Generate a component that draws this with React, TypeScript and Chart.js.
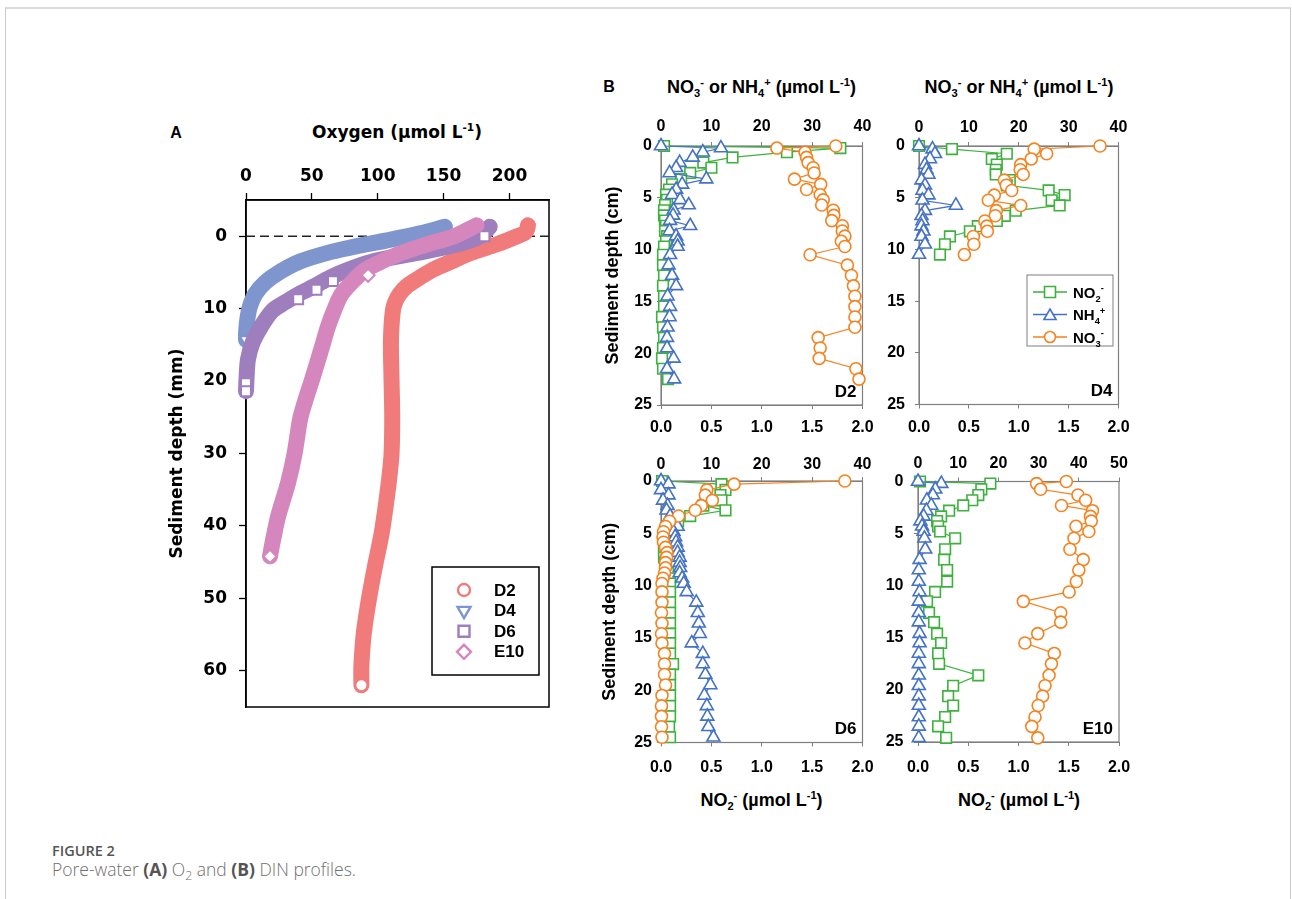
import React, { useEffect, useRef } from 'react';
import { Chart, registerables } from 'chart.js';

Chart.register(...registerables);

const SANS = "'Liberation Sans', Arial, sans-serif";
const DEJAVU = "'DejaVu Sans', sans-serif";
const CAPTION = "'Open Sans', 'Noto Sans', sans-serif";

// ---------------- Panel A: O2 profiles (depth mm, O2 umol/L) ----------------
const o2Stations = ['D2', 'D4', 'D6', 'E10'];
const o2Ticks = [0, 50, 100, 150, 200];
const o2DepthTicks = [0, 10, 20, 30, 40, 50, 60];

const o2D2Depth = [-1.5, -1, -0.5, 0, 0.6, 1.15, 2.3, 3.4, 4.6, 5.7, 6.9, 8.0, 9.2, 10.3, 12.6, 15, 20, 25, 30, 33, 36, 41, 45.5, 50, 54.7, 59.3, 62];
const o2D2Value = [214, 213.5, 212, 206, 198, 190, 171, 157, 142, 132, 122, 116.5, 113, 111.5, 110.4, 110, 110.5, 111, 110.5, 109, 107, 103, 98, 93.4, 89.5, 87.6, 87.6];

const o2D4Depth = [-1.3, -0.4, 0.5, 1.3, 2.2, 3.5, 4.9, 6.4, 8.0, 9.7, 11.5, 13.5, 14.3];
const o2D4Value = [151, 132, 109, 86, 64, 41, 26, 14.5, 7, 3, 1, 0, 0];

const o2D6Depth = [-1.3, 0, 1.15, 2.3, 3.4, 4.6, 5.7, 6.9, 8.0, 9.2, 10.3, 12.6, 14.7, 17, 19.3, 21.4];
const o2D6Value = [185, 178, 160, 130, 98, 78, 64, 52, 40, 29, 20, 11, 5, 1.5, 0.5, 0];

const o2E10Depth = [-1.5, 0, 1.15, 2.3, 3.4, 4.6, 5.7, 8.0, 10.3, 12.6, 14.7, 19.3, 23, 25.3, 29.9, 34, 38.6, 41.8, 44.2];
const o2E10Value = [175, 158, 137, 118, 104, 91, 84, 72.5, 66.7, 62, 58.6, 51, 44.5, 41, 37, 32, 24.5, 20.7, 18.2];

// individually visible markers
const o2D2MarkDepth = [62];
const o2D2MarkValue = [87.6];
const o2D4MarkDepth = [14.3];
const o2D4MarkValue = [0];
const o2D6MarkDepth = [0, 6.2, 7.4, 8.7, 20.3, 21.4];
const o2D6MarkValue = [181, 66, 53.5, 39.6, 0, 0];
const o2E10MarkDepth = [5.4, 44.2];
const o2E10MarkValue = [92.7, 18.2];

const colD2 = '#F17A7A';
const colD4 = '#7E95CE';
const colD6 = '#9F7EBE';
const colE10 = '#D486BD';

// ---------------- Panel B: DIN profiles (depth cm) ----------------
const bSeries = ['NO2-', 'NH4+', 'NO3-'];
const colNO2 = '#3DB13D';
const colNH4 = '#4472C4';
const colNO3 = '#F5821F';

const d2Depth = [0, 0.2, 0.6, 1.1, 1.6, 2.1, 2.6, 3.2, 3.7, 4.2, 4.7, 5.2, 5.7, 6.2, 6.7, 7.2, 7.7, 8.2, 8.7, 9.2, 9.7, 10.5, 11.5, 12.5, 13.5, 14.5, 15.5, 16.5, 17.5, 18.5, 19.5, 20.5, 21.5, 22.5];
const d2NO2 = [0.03, 1.78, 1.25, 0.71, 0.42, 0.5, 0.29, 0.2, 0.11, 0.08, 0.05, 0.06, 0.04, 0.03, 0.03, 0.04, 0.05, 0.04, 0.06, 0.05, 0.03, 0.02, 0.02, 0.03, 0.02, 0.03, 0.03, 0.01, 0.02, 0.03, 0.02, 0.01, 0.02, 0.07];
const d2NH4 = [0, 11.9, 8.3, 6.3, 3.7, 3.0, 1.7, 9.0, 4.2, 3.0, 2.2, 3.8, 5.5, 2.5, 2.4, 1.8, 5.8, 1.7, 3.0, 3.3, 3.3, 1.8, 1.5, 2.2, 3.0, 1.3, 1.8, 1.7, 1.3, 1.2, 1.2, 2.5, 1.2, 2.6];
const d2NO3 = [34.7, 23.0, 28.6, 28.9, 29.2, 30.2, 30.4, 26.5, 31.7, 28.9, 31.6, 32.2, 31.9, 34.2, 34.3, 33.9, 36.0, 36.0, 36.5, 35.8, 36.5, 29.6, 37.0, 37.8, 38.2, 38.5, 38.5, 38.5, 38.5, 31.2, 31.6, 31.4, 38.7, 39.3];

const d4Depth = [0, 0.3, 0.75, 1.25, 1.8, 2.3, 2.75, 3.3, 3.8, 4.3, 4.75, 5.25, 5.75, 6.25, 6.75, 7.25, 7.75, 8.25, 8.75, 9.5, 10.5];
const d4NO2 = [0, 0.33, 0.88, 0.73, 0.78, 0.77, 0.77, 0.91, 0.88, 1.3, 1.46, 1.33, 1.41, 0.97, 0.86, 0.78, 0.59, 0.51, 0.31, 0.26, 0.21];
const d4NH4 = [0, 2.7, 3.2, 2.2, 1.2, 1.5, 1.9, 0.5, 1.2, 0.7, 1.9, 0.7, 7.4, 1.2, 0.5, 0.7, 0.5, 0.9, 0.5, 1.2, 0];
const d4NO3 = [36.3, 23.1, 25.6, 22.5, 20.4, 20.3, 20.9, 17.1, 17.5, 18.6, 15.1, 13.9, 20.4, 15.5, 15.3, 13.2, 13.6, 13.7, 10.9, 11.0, 9.1];

const d6Depth = [0, 0.3, 0.85, 1.35, 1.85, 2.35, 2.8, 3.35, 3.85, 4.35, 4.85, 5.35, 5.85, 6.35, 6.85, 7.3, 7.8, 8.3, 8.8, 9.3, 9.8, 10.6, 11.6, 12.6, 13.6, 14.6, 15.5, 16.5, 17.5, 18.5, 19.5, 20.5, 21.5, 22.5, 23.5, 24.5];
const d6NO2 = [0.01, 0.6, 0.64, 0.59, 0.6, 0.42, 0.64, 0.29, 0.17, 0.07, 0.04, 0.03, 0.03, 0.03, 0.03, 0.03, 0.04, 0.05, 0.07, 0.09, 0.09, 0.09, 0.09, 0.09, 0.09, 0.09, 0.09, 0.09, 0.12, 0.09, 0.09, 0.09, 0.09, 0.09, 0.08, 0.09];
const d6NH4 = [0, 1.5, 0, 1.5, 0.4, 1.3, 1.1, 1.8, 2.5, 3.3, 2.5, 2.8, 3.0, 3.3, 3.3, 3.7, 3.7, 3.8, 3.7, 4.2, 4.5, 5.1, 7.0, 7.3, 7.5, 7.7, 6.1, 8.3, 8.3, 8.8, 9.8, 8.6, 9.1, 9.2, 9.4, 10.4];
const d6NO3 = [36.5, 14.5, 9.1, 8.8, 10.2, 8.0, 6.8, 3.5, 1.7, 0.9, 0.5, 0.4, 0.5, 0.9, 1.2, 1.1, 0.9, 0.9, 0.7, 0.4, 0.2, 0.2, 0.2, 0.1, 0.2, 0.1, 0.2, 0.7, 0.7, 0.7, 0.9, 0.2, 0.1, 0.1, 0.1, 0.2];

const e10Depth = [0, 0.2, 0.75, 1.3, 1.8, 2.3, 2.8, 3.35, 3.8, 4.3, 4.8, 5.45, 6.5, 7.5, 8.5, 9.6, 10.6, 11.5, 12.6, 13.5, 14.6, 15.5, 16.5, 17.5, 18.6, 19.6, 20.6, 21.5, 22.6, 23.5, 24.6];
const e10NO2 = [0.02, 0.72, 0.63, 0.6, 0.54, 0.45, 0.31, 0.23, 0.19, 0.2, 0.22, 0.37, 0.27, 0.26, 0.29, 0.29, 0.17, 0.09, 0.11, 0.16, 0.19, 0.23, 0.2, 0.21, 0.6, 0.35, 0.3, 0.35, 0.27, 0.2, 0.28];
const e10NH4 = [0, 5.8, 4.3, 3.7, 2.2, 3.3, 2.1, 1.4, 0.6, 1.0, 1.4, 1.6, 1.8, 0.4, 0.2, 0.2, 0.4, 0.2, 0.2, 0.2, 0.4, 0.4, 0.2, 0.2, 0.2, 0.2, 0.2, 0.2, 0.2, 0.2, 0.2];
const e10NO3 = [36.9, 29.5, 30.5, 39.8, 41.7, 35.7, 43.4, 42.9, 43.1, 39.3, 42.5, 38.8, 37.8, 41.1, 40.0, 39.4, 37.6, 26.2, 35.5, 35.5, 29.8, 26.6, 33.9, 33.2, 32.6, 31.6, 31.0, 29.9, 29.1, 28.3, 29.8];

// ---------------- helpers ----------------
type Kind = 'circle' | 'square' | 'up' | 'down' | 'diamond';

function drawShape(ctx: CanvasRenderingContext2D, kind: Kind, x: number, y: number, r: number, color: string, lw: number) {
  ctx.save();
  ctx.beginPath();
  if (kind === 'circle') ctx.arc(x, y, r, 0, Math.PI * 2);
  else if (kind === 'square') ctx.rect(x - r, y - r, 2 * r, 2 * r);
  else if (kind === 'up') {
    ctx.moveTo(x, y - r);
    ctx.lineTo(x + r * 0.866, y + r * 0.5);
    ctx.lineTo(x - r * 0.866, y + r * 0.5);
    ctx.closePath();
  } else if (kind === 'down') {
    ctx.moveTo(x, y + r);
    ctx.lineTo(x + r * 0.866, y - r * 0.5);
    ctx.lineTo(x - r * 0.866, y - r * 0.5);
    ctx.closePath();
  } else {
    ctx.moveTo(x, y - r);
    ctx.lineTo(x + r, y);
    ctx.lineTo(x, y + r);
    ctx.lineTo(x - r, y);
    ctx.closePath();
  }
  ctx.fillStyle = '#fff';
  ctx.fill();
  ctx.strokeStyle = color;
  ctx.lineWidth = lw;
  ctx.stroke();
  ctx.restore();
}

type Part = [string, ('sub' | 'sup')?];

function drawRichCanvas(ctx: CanvasRenderingContext2D, parts: Part[], x: number, y: number, size: number, family: string) {
  let cx = x;
  ctx.save();
  ctx.textBaseline = 'alphabetic';
  ctx.textAlign = 'left';
  ctx.fillStyle = '#000';
  for (const [t, k] of parts) {
    const s = k ? size * 0.62 : size;
    ctx.font = `bold ${s}px ${family}`;
    const dy = k === 'sub' ? size * 0.28 : k === 'sup' ? -size * 0.42 : 0;
    ctx.fillText(t, cx, y + dy);
    cx += ctx.measureText(t).width;
  }
  ctx.restore();
}

const zeroPad = (s: any) => {
  s.paddingLeft = 0;
  s.paddingRight = 0;
  s.paddingTop = 0;
  s.paddingBottom = 0;
};

const framePlugin = (color: string, width: number) => ({
  id: 'frame',
  beforeDatasetsDraw(chart: any) {
    const { ctx, chartArea } = chart;
    ctx.save();
    ctx.strokeStyle = color;
    ctx.lineWidth = width;
    ctx.strokeRect(chartArea.left, chartArea.top, chartArea.right - chartArea.left, chartArea.bottom - chartArea.top);
    ctx.restore();
  },
});

// ---------------- Panel A config ----------------
const aTick = { family: DEJAVU, weight: 'bold' as const, size: 17 };
const aTitle = { family: DEJAVU, weight: 'bold' as const, size: 17 };

function configA(): any {
  const pts = (ds: number[], vs: number[]) => ds.map((d, i) => ({ x: vs[i], y: d }));
  const band = (ds: number[], vs: number[], color: string, order: number) => ({
    data: pts(ds, vs),
    showLine: true,
    borderColor: color,
    backgroundColor: color,
    borderWidth: 16,
    pointRadius: 0,
    pointHoverRadius: 0,
    tension: 0.3,
    borderCapStyle: 'round',
    borderJoinStyle: 'round',
    clip: false,
    order,
  });
  const marks = (ds: number[], vs: number[], color: string, style: string, rotation: number, r: number, order: number) => ({
    data: pts(ds, vs),
    showLine: false,
    pointStyle: style,
    rotation,
    pointRadius: r,
    pointHoverRadius: r,
    pointBackgroundColor: '#fff',
    pointBorderColor: color,
    pointBorderWidth: 2,
    clip: false,
    order,
  });

  const dashed = {
    id: 'dashedZero',
    beforeDatasetsDraw(chart: any) {
      const { ctx, chartArea, scales } = chart;
      const y = scales.y.getPixelForValue(0);
      ctx.save();
      ctx.setLineDash([9, 5]);
      ctx.strokeStyle = '#222';
      ctx.lineWidth = 1.4;
      ctx.beginPath();
      ctx.moveTo(chartArea.left, y);
      ctx.lineTo(chartArea.right, y);
      ctx.stroke();
      ctx.restore();
    },
  };

  const legendA = {
    id: 'legendA',
    afterDraw(chart: any) {
      const { ctx, chartArea } = chart;
      const bx = chartArea.right - 117;
      const by = chartArea.bottom - 140;
      ctx.save();
      ctx.strokeStyle = '#000';
      ctx.lineWidth = 1.5;
      ctx.strokeRect(bx, by, 107, 108);
      const colors = [colD2, colD4, colD6, colE10];
      const kinds: Kind[] = ['circle', 'down', 'square', 'diamond'];
      const sizes = [6, 7.5, 5.5, 7];
      o2Stations.forEach((name, i) => {
        const ry = by + 23 + i * 20.6;
        drawShape(ctx, kinds[i], bx + 32, ry, sizes[i], colors[i], 2.4);
        ctx.font = `bold 17px ${SANS}`;
        ctx.fillStyle = '#000';
        ctx.textBaseline = 'middle';
        ctx.textAlign = 'left';
        ctx.fillText(name, bx + 62, ry + 1);
      });
      ctx.restore();
    },
  };

  const axisCommon = {
    grid: { drawOnChartArea: false, drawTicks: true, tickLength: 7, tickColor: '#000', tickWidth: 1.3 },
    border: { display: true, color: '#000', width: 1.5 },
  };

  return {
    type: 'scatter',
    data: {
      datasets: [
        band(o2D2Depth, o2D2Value, colD2, 8),
        marks(o2D2MarkDepth, o2D2MarkValue, colD2, 'circle', 0, 6, 7),
        band(o2D4Depth, o2D4Value, colD4, 6),
        marks(o2D4MarkDepth, o2D4MarkValue, colD4, 'triangle', 180, 7, 5),
        band(o2D6Depth, o2D6Value, colD6, 4),
        marks(o2D6MarkDepth, o2D6MarkValue, colD6, 'rect', 0, 7, 3),
        band(o2E10Depth, o2E10Value, colE10, 2),
        marks(o2E10MarkDepth, o2E10MarkValue, colE10, 'rectRot', 0, 6.5, 1),
      ],
    },
    options: {
      animation: false,
      responsive: false,
      devicePixelRatio: 1,
      events: [],
      layout: { padding: { left: 0, top: 0, right: 21, bottom: 13 } },
      plugins: { legend: { display: false }, tooltip: { enabled: false } },
      scales: {
        x: {
          type: 'linear',
          position: 'top',
          min: 0,
          max: 230,
          afterBuildTicks: (s: any) => {
            s.ticks = o2Ticks.map((v) => ({ value: v }));
          },
          afterFit: (s: any) => {
            s.height = 50;
            zeroPad(s);
          },
          ...axisCommon,
          ticks: { font: aTick, color: '#000', padding: 6, maxRotation: 0, autoSkip: false },
        },
        y: {
          type: 'linear',
          position: 'left',
          reverse: true,
          min: -5,
          max: 65,
          afterBuildTicks: (s: any) => {
            s.ticks = o2DepthTicks.map((v) => ({ value: v }));
          },
          afterFit: (s: any) => {
            s.width = 106;
            zeroPad(s);
          },
          ...axisCommon,
          ticks: { font: aTick, color: '#000', padding: 12, autoSkip: false },
          title: { display: true, text: 'Sediment depth (mm)', font: aTitle, color: '#000', padding: { top: 27, bottom: 0 } },
        },
      },
    },
    plugins: [framePlugin('#000', 1.5), dashed, legendA],
  };
}

// ---------------- Panel B config ----------------
const bTick = { family: SANS, weight: 'bold' as const, size: 16 };
const bTitle = { family: SANS, weight: 'bold' as const, size: 18 };
const GRAY = '#7f7f7f';

type BStation = {
  name: string;
  depth: number[];
  no2: number[];
  nh4: number[];
  no3: number[];
  topMax: number;
  leftW: number;
  topH: number;
  botH: number;
  rightPad: number;
  topPad: number;
  botPad: number;
  yPad: number;
  yTitle: boolean;
  yTitlePad: number;
  legend: boolean;
};

const legendParts: Part[][] = [
  [['NO'], ['2', 'sub'], ['-', 'sup']],
  [['NH'], ['4', 'sub'], ['+', 'sup']],
  [['NO'], ['3', 'sub'], ['-', 'sup']],
];

function configB(st: BStation): any {
  const series = (vals: number[], color: string, axis: string, style: string, r: number, order: number) => ({
    data: st.depth.map((d, i) => ({ x: vals[i], y: d })),
    xAxisID: axis,
    yAxisID: 'y',
    showLine: true,
    borderColor: color,
    borderWidth: 1.2,
    pointStyle: style,
    pointRadius: r,
    pointHoverRadius: r,
    pointBackgroundColor: '#fff',
    pointBorderColor: color,
    pointBorderWidth: 1.6,
    tension: 0,
    clip: false,
    order,
  });

  const labelPlugin = {
    id: 'stationLabel',
    afterDraw(chart: any) {
      const { ctx, chartArea } = chart;
      ctx.save();
      ctx.font = `bold 17px ${SANS}`;
      ctx.fillStyle = '#000';
      ctx.textAlign = 'right';
      ctx.textBaseline = 'middle';
      ctx.fillText(st.name, chartArea.right - 6, chartArea.bottom - 13);
      if (st.legend) {
        const bx = chartArea.right - 91.5;
        const by = chartArea.top + 129;
        ctx.strokeStyle = GRAY;
        ctx.lineWidth = 1;
        ctx.strokeRect(bx, by, 86, 71);
        const cols = [colNO2, colNH4, colNO3];
        const kinds: Kind[] = ['square', 'up', 'circle'];
        const rs = [5.5, 7, 5.5];
        bSeries.forEach((_, i) => {
          const ry = by + 17 + i * 22.5;
          ctx.strokeStyle = cols[i];
          ctx.lineWidth = 1.3;
          ctx.beginPath();
          ctx.moveTo(bx + 6, ry);
          ctx.lineTo(bx + 40, ry);
          ctx.stroke();
          drawShape(ctx, kinds[i], bx + 23, ry + (kinds[i] === 'up' ? 1.5 : 0), rs[i], cols[i], 1.6);
          drawRichCanvas(ctx, legendParts[i], bx + 46, ry + 5.5, 15, SANS);
        });
      }
      ctx.restore();
    },
  };

  const grid = { drawOnChartArea: false, drawTicks: true, tickLength: 4, tickColor: GRAY, tickWidth: 1 };
  const border = { display: true, color: GRAY, width: 1 };

  return {
    type: 'scatter',
    data: {
      datasets: [
        series(st.no3, colNO3, 'x', 'circle', 6, 0),
        series(st.nh4, colNH4, 'x', 'triangle', 7.5, 1),
        series(st.no2, colNO2, 'xb', 'rect', 7.5, 2),
      ],
    },
    options: {
      animation: false,
      responsive: false,
      devicePixelRatio: 1,
      events: [],
      layout: { padding: { left: 0, top: 0, right: st.rightPad, bottom: 0 } },
      plugins: { legend: { display: false }, tooltip: { enabled: false } },
      scales: {
        x: {
          type: 'linear',
          axis: 'x',
          position: 'top',
          min: 0,
          max: st.topMax,
          grid,
          border,
          ticks: { stepSize: 10, font: bTick, color: '#000', padding: st.topPad, maxRotation: 0, autoSkip: false },
          afterFit: (s: any) => {
            s.height = st.topH;
            zeroPad(s);
          },
        },
        xb: {
          type: 'linear',
          axis: 'x',
          position: 'bottom',
          min: 0,
          max: 2,
          grid,
          border,
          ticks: {
            stepSize: 0.5,
            font: bTick,
            color: '#000',
            padding: st.botPad,
            maxRotation: 0,
            autoSkip: false,
            callback: (v: any) => Number(v).toFixed(1),
          },
          afterFit: (s: any) => {
            s.height = st.botH;
            zeroPad(s);
          },
        },
        y: {
          type: 'linear',
          position: 'left',
          reverse: true,
          min: 0,
          max: 25,
          grid,
          border,
          ticks: { stepSize: 5, font: bTick, color: '#000', padding: st.yPad, autoSkip: false },
          title: { display: st.yTitle, text: 'Sediment depth (cm)', font: bTitle, color: '#000', padding: { top: st.yTitlePad, bottom: 0 } },
          afterFit: (s: any) => {
            s.width = st.leftW;
            zeroPad(s);
          },
        },
      },
    },
    plugins: [framePlugin(GRAY, 1.2), labelPlugin],
  };
}

const stD2: BStation = { name: 'D2', depth: d2Depth, no2: d2NO2, nh4: d2NH4, no3: d2NO3, topMax: 40, leftW: 71, topH: 46, botH: 40, rightPad: 12.5, topPad: 6, botPad: 9, yPad: 5, yTitle: true, yTitlePad: 12, legend: false };
const stD4: BStation = { name: 'D4', depth: d4Depth, no2: d4NO2, nh4: d4NH4, no3: d4NO3, topMax: 40, leftW: 39, topH: 46, botH: 40.5, rightPad: 16.5, topPad: 5, botPad: 9.5, yPad: 10, yTitle: false, yTitlePad: 0, legend: true };
const stD6: BStation = { name: 'D6', depth: d6Depth, no2: d6NO2, nh4: d6NH4, no3: d6NO3, topMax: 40, leftW: 71, topH: 41, botH: 42.5, rightPad: 12.5, topPad: 3, botPad: 11.5, yPad: 5, yTitle: true, yTitlePad: 9, legend: false };
const stE10: BStation = { name: 'E10', depth: e10Depth, no2: e10NO2, nh4: e10NH4, no3: e10NO3, topMax: 50, leftW: 38, topH: 41.5, botH: 43, rightPad: 16, topPad: 4, botPad: 12, yPad: 10.5, yTitle: false, yTitlePad: 0, legend: false };

// ---------------- React components ----------------
function ChartCanvas({ left, top, width, height, make }: { left: number; top: number; width: number; height: number; make: () => any }) {
  const ref = useRef<HTMLCanvasElement>(null);
  useEffect(() => {
    if (!ref.current) return;
    const chart = new Chart(ref.current, make());
    return () => chart.destroy();
  }, []);
  return <canvas ref={ref} width={width} height={height} style={{ position: 'absolute', left, top, width, height }} />;
}

function Rich({ parts }: { parts: Part[] }) {
  return (
    <>
      {parts.map(([t, k], i) =>
        k ? (
          <span key={i} style={{ fontSize: '0.62em', position: 'relative', top: k === 'sub' ? '0.32em' : '-0.62em' }}>
            {t}
          </span>
        ) : (
          <span key={i}>{t}</span>
        )
      )}
    </>
  );
}

function Label({ x, y, family, size, children, weight = 'bold', color = '#000' }: any) {
  return (
    <div
      style={{
        position: 'absolute',
        left: x,
        top: y,
        transform: 'translate(-50%, -50%)',
        fontFamily: family,
        fontSize: size,
        fontWeight: weight,
        color,
        whiteSpace: 'nowrap',
        lineHeight: 1,
      }}
    >
      {children}
    </div>
  );
}

const oxygenTitle: Part[] = [['Oxygen (µmol L'], ['-1', 'sup'], [')']];
const topTitle: Part[] = [['NO'], ['3', 'sub'], ['-', 'sup'], [' or NH'], ['4', 'sub'], ['+', 'sup'], [' (µmol L'], ['-1', 'sup'], [')']];
const bottomTitle: Part[] = [['NO'], ['2', 'sub'], ['-', 'sup'], [' (µmol L'], ['-1', 'sup'], [')']];

export default function App() {
  return (
    <div style={{ position: 'absolute', left: 0, top: 0, width: 1292, height: 899, overflow: 'hidden', background: '#fff' }}>
      <div
        style={{
          position: 'absolute',
          left: 5,
          top: 7,
          width: 1284,
          height: 1000,
          borderTop: '2px solid #dcdcdc',
          borderLeft: '1px solid #c8c8c8',
          borderRight: '1px solid #c8c8c8',
        }}
      />

      <ChartCanvas left={140} top={150} width={430} height={570} make={configA} />
      <ChartCanvas left={590} top={100} width={285} height={345} make={() => configB(stD2)} />
      <ChartCanvas left={880} top={100} width={255} height={345} make={() => configB(stD4)} />
      <ChartCanvas left={590} top={440} width={285} height={345} make={() => configB(stD6)} />
      <ChartCanvas left={880} top={440} width={255} height={345} make={() => configB(stE10)} />

      <Label x={176} y={133} family={SANS} size={16}>A</Label>
      <Label x={397} y={132} family={DEJAVU} size={17}>
        <Rich parts={oxygenTitle} />
      </Label>
      <Label x={609} y={87} family={SANS} size={16}>B</Label>
      <Label x={761.5} y={87} family={SANS} size={18}>
        <Rich parts={topTitle} />
      </Label>
      <Label x={1019} y={87} family={SANS} size={18}>
        <Rich parts={topTitle} />
      </Label>
      <Label x={761.5} y={800} family={SANS} size={18}>
        <Rich parts={bottomTitle} />
      </Label>
      <Label x={1019} y={800} family={SANS} size={18}>
        <Rich parts={bottomTitle} />
      </Label>

      <div style={{ position: 'absolute', left: 52, top: 842, fontFamily: CAPTION, fontSize: 14.5, fontWeight: 600, color: '#555', lineHeight: '18px', whiteSpace: 'nowrap' }}>
        FIGURE 2
      </div>
      <div style={{ position: 'absolute', left: 52, top: 860, fontFamily: CAPTION, fontSize: 17.5, fontWeight: 300, color: '#707070', lineHeight: '18px', whiteSpace: 'nowrap' }}>
        Pore-water <b style={{ fontWeight: 700, color: '#555' }}>(A)</b> O<sub style={{ fontSize: '0.7em', verticalAlign: 'baseline', position: 'relative', top: '0.3em' }}>2</sub> and{' '}
        <b style={{ fontWeight: 700, color: '#555' }}>(B)</b> DIN profiles.
      </div>
    </div>
  );
}
